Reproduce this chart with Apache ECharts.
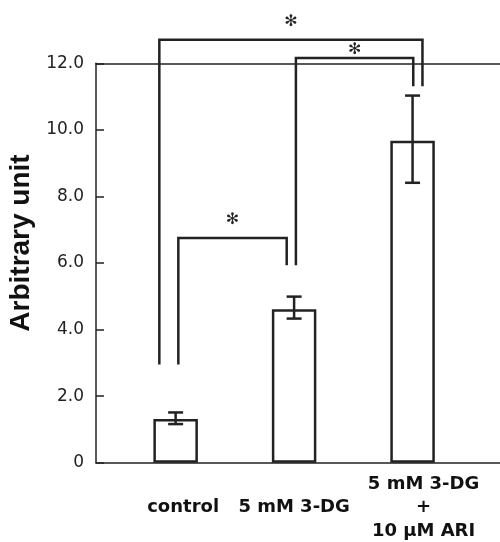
<!DOCTYPE html>
<html>
<head>
<meta charset="utf-8">
<script src="https://cdn.jsdelivr.net/npm/echarts@6/dist/echarts.min.js"></script>
<style>
  html, body { margin: 0; padding: 0; background: #fff; }
  #chart { width: 500px; height: 542px; }
</style>
</head>
<body>
<div id="chart"></div>
<script>
// values
const categories = ['control', '5 mM 3-DG', '5 mM 3-DG\n+\n10 μM ARI']
const means = [1.31, 4.61, 9.67]
const errLow = [1.16, 4.33, 8.41]
const errHigh = [1.51, 4.99, 11.03]
const yTickLabels = ['0', '2.0', '4.0', '6.0', '8.0', '10.0', '12.0']

// significance brackets (category from/to, top level, where each leg stops)
const bracketFrom = [0, 1, 0]
const bracketTo = [2, 2, 1]
const bracketTop = [12.71, 12.16, 6.75]
const bracketLeftEnd = [2.95, 5.93, 2.95]
const bracketRightEnd = [11.31, 11.31, 5.93]
const bracketMark = ['✻', '✻', '✻']

// drawing tweaks for the brackets (px)
const legLeftDx = [-16.3, 1.8, 2.7]
const legRightDx = [9.9, 0.7, -7.4]
const markGap = [18, 8, 18]

// label nudges (px): [left padding, bottom padding]
const labelPad = [[15, 0], [0, 0], [22, 16]]

const ink = '#222'
const gridTop = 63.3
const gridBottom = 542 - 462.7

const chart = echarts.init(document.getElementById('chart'), null, { renderer: 'canvas' })

const option = {
  animation: false,
  backgroundColor: '#fff',
  grid: [
    { left: 116.4, right: 28.2, top: gridTop, bottom: gridBottom, outerBoundsMode: 'none', containLabel: false },
    { left: 96, right: 0, top: gridTop, bottom: gridBottom, outerBoundsMode: 'none', containLabel: false },
  ],
  xAxis: [
    {
      type: 'category',
      gridIndex: 0,
      data: categories.map((c, i) => ({
        value: c,
        textStyle: {
          verticalAlign: 'middle',
          padding: [0, 0, labelPad[i][1], labelPad[i][0]],
        },
      })),
      axisLine: { show: false },
      axisTick: { show: false },
      axisLabel: {
        margin: 45,
        verticalAlign: 'middle',
        fontFamily: 'DejaVu Sans',
        fontWeight: 'bold',
        fontSize: 18,
        lineHeight: 23.5,
        color: '#111',
        interval: 0,
      },
    },
    {
      type: 'value',
      gridIndex: 1,
      min: 0,
      max: 1,
      position: 'bottom',
      axisLine: { show: true, onZero: false, lineStyle: { color: ink, width: 1.5 } },
      axisTick: { show: false },
      axisLabel: { show: false },
      splitLine: { show: false },
    },
    {
      type: 'value',
      gridIndex: 1,
      min: 0,
      max: 1,
      position: 'top',
      axisLine: { show: true, onZero: false, lineStyle: { color: ink, width: 1.5 } },
      axisTick: { show: false },
      axisLabel: { show: false },
      splitLine: { show: false },
    },
  ],
  yAxis: [
    { type: 'value', gridIndex: 0, min: 0, max: 12, show: false },
    {
      type: 'value',
      gridIndex: 1,
      min: 0,
      max: 12,
      interval: 2,
      name: 'Arbitrary unit',
      nameLocation: 'middle',
      nameGap: 53,
      nameTextStyle: {
        fontFamily: 'Liberation Sans',
        fontWeight: 'bold',
        fontSize: 28,
        color: '#111',
        padding: [0, 0, 0, 40],
      },
      axisLine: { show: true, onZero: false, lineStyle: { color: ink, width: 1.5 } },
      axisTick: { show: true, inside: true, length: 8, lineStyle: { color: ink, width: 1.5 } },
      axisLabel: {
        margin: 12,
        fontFamily: 'DejaVu Sans',
        fontSize: 17,
        color: '#222',
        formatter: (v) => yTickLabels[Math.round(v / 2)],
      },
      splitLine: { show: false },
    },
  ],
  series: [
    {
      type: 'bar',
      xAxisIndex: 0,
      yAxisIndex: 0,
      barWidth: 44.5,
      data: means,
      itemStyle: { color: '#fff', borderColor: ink, borderWidth: 2.5 },
      z: 2,
    },
    {
      type: 'custom',
      xAxisIndex: 0,
      yAxisIndex: 0,
      z: 3,
      clip: false,
      data: categories.map((c, i) => [i, errLow[i], errHigh[i]]),
      encode: { x: 0, y: [1, 2] },
      renderItem: (params, api) => {
        const lo = api.coord([api.value(0), api.value(1)])
        const hi = api.coord([api.value(0), api.value(2)])
        const x = lo[0]
        const cap = 7.5
        const style = { stroke: ink, lineWidth: 2.5 }
        return {
          type: 'group',
          children: [
            { type: 'line', shape: { x1: x, y1: lo[1], x2: x, y2: hi[1] }, style },
            { type: 'line', shape: { x1: x - cap, y1: lo[1], x2: x + cap, y2: lo[1] }, style },
            { type: 'line', shape: { x1: x - cap, y1: hi[1], x2: x + cap, y2: hi[1] }, style },
          ],
        }
      },
    },
    {
      type: 'custom',
      xAxisIndex: 0,
      yAxisIndex: 0,
      z: 3,
      clip: false,
      data: bracketFrom.map((f, i) => [f, bracketTo[i], bracketTop[i], bracketLeftEnd[i], bracketRightEnd[i]]),
      encode: { x: [0, 1], y: [2, 3, 4] },
      renderItem: (params, api) => {
        const i = params.dataIndex
        const x1 = api.coord([api.value(0), 0])[0] + legLeftDx[i]
        const x2 = api.coord([api.value(1), 0])[0] + legRightDx[i]
        const yTop = api.coord([0, api.value(2)])[1]
        const yL = api.coord([0, api.value(3)])[1]
        const yR = api.coord([0, api.value(4)])[1]
        return {
          type: 'group',
          children: [
            {
              type: 'polyline',
              shape: { points: [[x1, yL], [x1, yTop], [x2, yTop], [x2, yR]] },
              style: { stroke: ink, lineWidth: 2.5, fill: null },
            },
            {
              type: 'text',
              x: (x1 + x2) / 2,
              y: yTop - markGap[i],
              style: {
                text: bracketMark[i],
                align: 'center',
                verticalAlign: 'middle',
                fontFamily: 'DejaVu Sans',
                fontSize: 16,
                fill: ink,
              },
            },
          ],
        }
      },
    },
  ],
}

chart.setOption(option)
</script>
</body>
</html>
